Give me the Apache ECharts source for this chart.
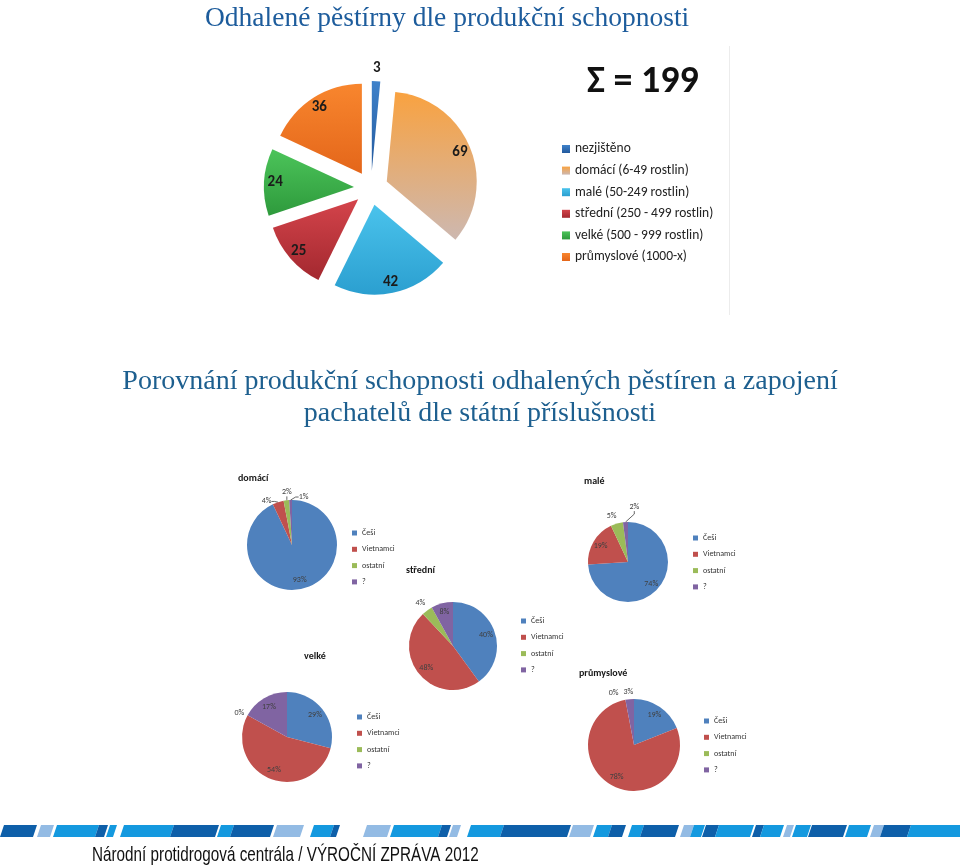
<!DOCTYPE html>
<html><head><meta charset="utf-8">
<script src="https://cdn.jsdelivr.net/npm/echarts@6/dist/echarts.min.js"></script>
<style>html,body{margin:0;padding:0;background:#fff}#c{width:960px;height:865px}</style>
</head><body><div id="c"></div><script>
// ---- data ----
const mainCategories = ['nezjištěno','domácí (6-49 rostlin)','malé (50-249 rostlin)','střední (250 - 499 rostlin)','velké (500 - 999 rostlin)','průmyslové (1000-x)'];
const mainValues = [3, 69, 42, 25, 24, 36];
const mainTotalLabel = 'Σ = 199';
const nationCategories = ['Češi','Vietnamci','ostatní','?'];
const domaciShares = [93, 4, 2, 1];
const maleShares = [74, 19, 5, 2];
const stredniShares = [40, 48, 4, 8];
const velkeShares = [29, 54, 0, 17];
const prumysloveShares = [19, 78, 0, 3];
const smallTitles = ['domácí','malé','střední','velké','průmyslové'];
const titleTop = 'Odhalené pěstírny dle produkční schopnosti';
const titleMid = 'Porovnání produkční schopnosti odhalených pěstíren a zapojení\npachatelů dle státní příslušnosti';
const footerText = 'Národní protidrogová centrála / VÝROČNÍ ZPRÁVA 2012';

// ---- styling / layout ----
const SANS = "Carlito, 'Liberation Sans', sans-serif";
const SERIF = "'Liberation Serif', 'DejaVu Serif', serif";
function grad(a, b) {
  return new echarts.graphic.LinearGradient(0, 0, 0, 1, [{offset: 0, color: a}, {offset: 1, color: b}]);
}
const mainColors = [
  grad('#3f82ca', '#23599d'),
  grad('#f9a240', '#cdb8b0'),
  grad('#4ac3ec', '#2b9fd0'),
  grad('#d4444b', '#a3282f'),
  grad('#4cc45a', '#2e9a3c'),
  grad('#f8862e', '#e4661a')
];
const nationColors = ['#4F81BD', '#C0504D', '#9BBB59', '#8064A2'];
// label nudges (style): dataIndex -> [dx, dy], and which outside labels keep a leader line
const smallLayout = [
  {values: domaciShares, center: [292, 545], r: 45, tx: 238, ty: 473, lx: 352, ly: 528, nudge: {1: [3, 4], 2: [14, -3], 3: [26, 2]}, lines: [1, 2, 3]},
  {values: maleShares, center: [628, 562], r: 40, tx: 584, ty: 476, lx: 693, ly: 533, nudge: {2: [9, -3], 3: [22, -10]}, lines: [3]},
  {values: stredniShares, center: [453, 646], r: 44, tx: 406, ty: 565, lx: 521, ly: 616, nudge: {2: [9, -3]}, lines: []},
  {values: velkeShares, center: [287, 737], r: 45, tx: 304, ty: 651, lx: 357, ly: 712, nudge: {2: [9, 0]}, lines: []},
  {values: prumysloveShares, center: [634, 745], r: 46, tx: 579, ty: 668, lx: 704, ly: 716, nudge: {2: [2, -2], 3: [12, -2]}, lines: []}
];
function nudgeLayout(nudge) {
  return function (p) {
    const o = nudge[p.dataIndex];
    if (!o || !p.labelRect) return {};
    return {
      x: p.labelRect.x + p.labelRect.width / 2 + o[0],
      y: p.labelRect.y + p.labelRect.height / 2 + o[1],
      align: 'center', verticalAlign: 'middle'
    };
  };
}

const series = [];
const legends = [];
const graphics = [];

// main pie
const MC = [371, 188], MR = 90, MOFF = 17;
const mainLabelStyle = {show: true, position: 'inside', formatter: '{c}', fontFamily: SANS, fontSize: 15, fontWeight: 'bold', color: '#1b1b1b'};
series.push({
  type: 'pie', center: MC, radius: [0, MR], selectedMode: 'multiple', selectedOffset: MOFF,
  silent: true, animation: false, label: {show: false}, labelLine: {show: false},
  data: mainValues.map((v, i) => ({name: mainCategories[i], value: v, selected: true, itemStyle: {color: mainColors[i]}}))
});
// label rings (transparent): large slices labelled inside, the thin first slice labelled beyond its tip
series.push({
  type: 'pie', center: MC, radius: [62, MR], selectedMode: 'multiple', selectedOffset: MOFF,
  silent: true, animation: false, itemStyle: {color: 'rgba(0,0,0,0)'}, labelLine: {show: false},
  data: mainValues.map((v, i) => ({name: mainCategories[i], value: v, selected: true, label: i === 0 ? {show: false} : mainLabelStyle}))
});
series.push({
  type: 'pie', center: MC, radius: [MR + 2, MR + 18], selectedMode: 'multiple', selectedOffset: MOFF,
  silent: true, animation: false, itemStyle: {color: 'rgba(0,0,0,0)'}, labelLine: {show: false},
  data: mainValues.map((v, i) => ({name: mainCategories[i], value: v, selected: true, label: i === 0 ? mainLabelStyle : {show: false}}))
});
legends.push({
  orient: 'vertical', left: 562, top: 141, padding: 0, itemWidth: 8, itemHeight: 8, itemGap: 5.6, icon: 'rect',
  selectedMode: false, data: mainCategories,
  textStyle: {fontFamily: SANS, fontSize: 13.5, color: '#222', lineHeight: 16}
});

// small pies
smallLayout.forEach((s, k) => {
  series.push({
    type: 'pie', center: s.center, radius: [0, s.r], silent: true, animation: false,
    avoidLabelOverlap: false,
    labelLayout: nudgeLayout(s.nudge),
    data: s.values.map((v, i) => ({
      name: nationCategories[i], value: v, itemStyle: {color: nationColors[i]},
      label: v < 6 ? {show: true, position: 'outside', formatter: '{c}%', fontFamily: SANS, fontSize: 8, color: '#404040'} : {show: false},
      labelLine: (v < 6 && s.lines.indexOf(i) >= 0) ? {show: true, length: 5, length2: 3, lineStyle: {color: '#404040', width: 0.8}} : {show: false, length: 5, length2: 3}
    }))
  });
  series.push({
    type: 'pie', center: s.center, radius: [s.r * 0.44, s.r], silent: true, animation: false,
    itemStyle: {color: 'rgba(0,0,0,0)'}, labelLine: {show: false},
    data: s.values.map((v, i) => ({
      name: nationCategories[i], value: v,
      label: v >= 6 ? {show: true, position: 'inside', formatter: '{c}%', fontFamily: SANS, fontSize: 8, color: '#404040'} : {show: false}
    }))
  });
  legends.push({
    orient: 'vertical', left: s.lx, top: s.ly, padding: 0, itemWidth: 5, itemHeight: 5, itemGap: 6.3, icon: 'rect',
    selectedMode: false, data: nationCategories,
    textStyle: {fontFamily: SANS, fontSize: 8, color: '#333', lineHeight: 10}
  });
  graphics.push({type: 'text', left: s.tx, top: s.ty, style: {text: smallTitles[k], fontFamily: SANS, fontSize: 10, fontWeight: 'bold', fill: '#1a1a1a'}});
});

// top image frame
graphics.push({type: 'line', shape: {x1: 729.5, y1: 46, x2: 729.5, y2: 315}, style: {stroke: '#ececec', lineWidth: 1}});
graphics.push({type: 'text', left: 587, top: 63, style: {text: mainTotalLabel, fontFamily: SANS, fontSize: 38, fontWeight: 'bold', fill: '#111'}});

// titles
graphics.push({type: 'text', left: 205, top: 5, style: {text: titleTop, fontFamily: SERIF, fontSize: 27.5, fill: '#1d5c9c'}});
graphics.push({type: 'text', x: 480, y: 366, style: {text: titleMid, fontFamily: SERIF, fontSize: 28, fill: '#1d5f8f', align: 'center', lineHeight: 32}});

// footer stripes (decorative)
const D = '#0e5fa9', M = '#1499df', P = '#93bbe4';
const stripes = [[0,33,D],[37,50,P],[53,95,M],[95,104,D],[106,113,M],[120,170,M],[170,215,D],[217,230,M],[230,270,D],[273,300,P],[310,330,M],[330,336,D],[363,387,P],[390,438,M],[438,447,D],[449,457,P],[467,500,M],[500,567,D],[569,590,P],[593,608,M],[608,622,D],[628,640,M],[640,675,D],[680,690,P],[690,701,M],[702,715,D],[715,750,M],[752,760,D],[760,780,M],[783,790,P],[792,807,M],[808,843,D],[845,867,M],[870,880,P],[880,907,D],[907,965,M]];
stripes.forEach(([a, b, c]) => {
  graphics.push({type: 'polygon', shape: {points: [[a + 4, 825], [b + 4, 825], [b, 837], [a, 837]]}, style: {fill: c}, silent: true});
});
graphics.push({type: 'text', x: 92, y: 845, scaleX: 0.727, style: {text: footerText, fontFamily: "'Liberation Sans', sans-serif", fontSize: 21, fill: '#111', verticalAlign: 'top'}});

const chart = echarts.init(document.getElementById('c'), null, {renderer: 'canvas'});
chart.setOption({
  backgroundColor: '#ffffff',
  animation: false,
  legend: legends,
  series: series,
  graphic: graphics
});
</script></body></html>
